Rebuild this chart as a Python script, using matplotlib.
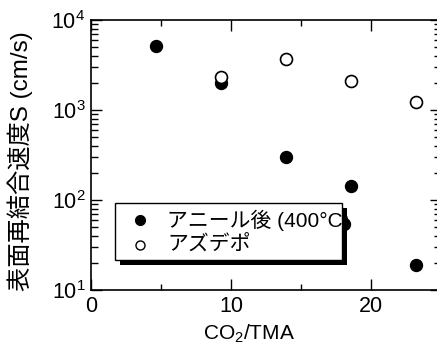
import matplotlib
matplotlib.use('Agg')
import matplotlib.pyplot as plt
from matplotlib.patches import Rectangle

plt.rcParams['font.family'] = ['Liberation Sans', 'Noto Sans CJK JP']
plt.rcParams['mathtext.default'] = 'regular'

# data
x_anneal = [4.64, 9.29, 13.93, 18.55, 18.1, 23.19]
s_anneal = [5100, 1980, 303, 143, 54, 19]
x_asdep = [9.29, 13.93, 18.55, 23.19]
s_asdep = [2350, 3700, 2100, 1240]
labels = ['アニール後 (400°C)', 'アズデポ']

fig = plt.figure(figsize=(4.37, 3.47), dpi=100)
ax = fig.add_axes([91/437, 1 - 290/347, 350/437, 270/347])

ax.plot(x_anneal, s_anneal, 'o', color='black', ms=8.6, zorder=3)
ax.plot(x_asdep, s_asdep, 'o', mfc='white', mec='black', mew=1.2, ms=8.6, zorder=3)

ax.set_yscale('log')
ax.set_xlim(0, 25)
ax.set_ylim(10, 1e4)
ax.set_xticks([0, 10, 20])
ax.set_xticks([5, 15], minor=True)

for s in ax.spines.values():
    s.set_linewidth(1.2)
ax.tick_params(which='both', direction='in', top=True, right=True, width=1,
               labelsize=15.5, pad=4)
ax.tick_params(which='major', length=8)
ax.tick_params(axis='x', which='minor', length=4)
ax.tick_params(axis='y', which='minor', length=5)

ax.set_xlabel('CO$_2$/TMA', fontsize=15)
ax.xaxis.set_label_coords(0.451, -0.12)
ax.set_ylabel('表面再結合速度S (cm/s)', fontsize=17.5)
ax.yaxis.set_label_coords(-0.165, 0.476)

# legend box with black drop shadow
x0, x1, y0, y1 = 0.0686, 0.717, 0.111, 0.322
ax.add_patch(Rectangle((x0 + 0.013, y0 - 0.017), x1 - x0, y1 - y0,
                       transform=ax.transAxes, fc='black', ec='none', zorder=4))
box = Rectangle((x0, y0), x1 - x0, y1 - y0, transform=ax.transAxes,
                fc='white', ec='black', lw=1, zorder=5)
ax.add_patch(box)
ax.plot([0.14], [0.259], 'o', color='black', ms=7, transform=ax.transAxes, zorder=6, clip_on=False)
ax.plot([0.14], [0.167], 'o', mfc='white', mec='black', mew=1, ms=6.5,
        transform=ax.transAxes, zorder=6, clip_on=False)
t1 = ax.text(0.218, 0.259, labels[0], transform=ax.transAxes, fontsize=15,
             va='center', ha='left', zorder=6)
t1.set_clip_path(Rectangle((x0, y0), x1 - x0 + 0.02, y1 - y0, transform=ax.transAxes))
ax.text(0.218, 0.167, labels[1], transform=ax.transAxes, fontsize=15,
        va='center', ha='left', zorder=6)

fig.savefig('out.png', dpi=100)
